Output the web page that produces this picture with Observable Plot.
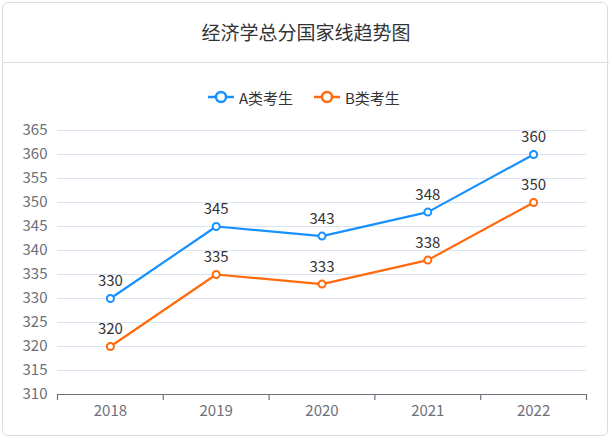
<!DOCTYPE html>
<html>
<head>
<meta charset="utf-8">
<script src="https://cdn.jsdelivr.net/npm/d3@7"></script>
<script src="https://cdn.jsdelivr.net/npm/@observablehq/plot@0.6"></script>
<style>
  html, body { margin: 0; padding: 0; background: #fff; }
  body { width: 612px; height: 441px; position: relative; overflow: hidden;
         font-family: "Microsoft YaHei", "Noto Sans CJK SC", sans-serif; }
  #card { position: absolute; left: 2px; top: 2px; width: 606px; height: 434px;
          border: 1px solid #dcdcdc; border-radius: 6px; box-sizing: border-box; }
  #title { position: absolute; left: 0; width: 612px; top: 19px; text-align: center;
           font-size: 19px; line-height: 26px; color: #333; }
  #sep { position: absolute; left: 3px; width: 606px; top: 62px; border-top: 1px solid #dcdcdc; }
  #legend { position: absolute; left: 0; top: 86px; height: 22px; width: 612px; }
  .item { position: absolute; top: 0; height: 22px; display: flex; align-items: center;
          font-size: 15px; color: #333; }
  .item svg { margin-right: 5px; }
  #chart { position: absolute; left: 0; top: 114px; }
</style>
</head>
<body>
<div id="card"></div>
<div id="title">经济学总分国家线趋势图</div>
<div id="sep"></div>
<div id="legend"></div>
<div id="chart"></div>
<script>
const years = [2018, 2019, 2020, 2021, 2022];
const scoresA = [330, 345, 343, 348, 360];
const scoresB = [320, 335, 333, 338, 350];
const seriesNames = ["A类考生", "B类考生"];
const seriesColors = ["#1890ff", "#ff6a0d"];
const yTicks = [310, 315, 320, 325, 330, 335, 340, 345, 350, 355, 360, 365];

const boundaries = years.map(y => y - 0.5).concat([years[years.length - 1] + 0.5]);

const rows = [];
[scoresA, scoresB].forEach((arr, i) => {
  arr.forEach((v, j) => rows.push({year: years[j], value: v, series: seriesNames[i]}));
});

// legend
const legend = document.getElementById("legend");
const legendX = [208, 314];
seriesNames.forEach((name, i) => {
  const div = document.createElement("div");
  div.className = "item";
  div.style.left = legendX[i] + "px";
  div.innerHTML = `<svg width="26" height="14"><line x1="0" x2="26" y1="7" y2="7" stroke="${seriesColors[i]}" stroke-width="2.5"/><circle cx="13" cy="7" r="5" fill="#fff" stroke="${seriesColors[i]}" stroke-width="2.5"/></svg><span>${name}</span>`;
  legend.appendChild(div);
});

const axisColor = "#6e7079";
const chart = Plot.plot({
  width: 612,
  height: 327,
  marginLeft: 57,
  marginRight: 26,
  marginTop: 16,
  marginBottom: 47,
  style: {fontFamily: '"Microsoft YaHei", "Noto Sans CJK SC", sans-serif', fontSize: "15px", background: "transparent", overflow: "visible"},
  x: {type: "linear", domain: [boundaries[0], boundaries[boundaries.length - 1]]},
  y: {domain: [310, 365]},
  color: {domain: seriesNames, range: seriesColors},
  marks: [
    Plot.gridY(yTicks, {stroke: "#dbe3f2", strokeOpacity: 1, strokeWidth: 1}),
    Plot.axisY(yTicks, {tickSize: 0, tickPadding: 10, fontSize: 15, fill: axisColor, label: null, tickFormat: d => String(d)}),
    Plot.axisX(boundaries, {tickSize: 6, tickFormat: () => "", stroke: axisColor, label: null, strokeWidth: 1.2}),
    Plot.axisX(years, {tickSize: 0, tickPadding: 11, fontSize: 15, fill: axisColor, label: null, tickFormat: d => String(d)}),
    Plot.ruleY([310], {stroke: axisColor, strokeWidth: 1.2}),
    Plot.line(rows, {x: "year", y: "value", z: "series", stroke: "series", strokeWidth: 2.2}),
    Plot.dot(rows, {x: "year", y: "value", stroke: "series", fill: "#fff", r: 3.5, strokeWidth: 2}),
    Plot.text(rows, {x: "year", y: "value", text: d => String(d.value), dy: -17, fontSize: 15, fill: "#333"})
  ]
});
document.getElementById("chart").appendChild(chart);
</script>
</body>
</html>
